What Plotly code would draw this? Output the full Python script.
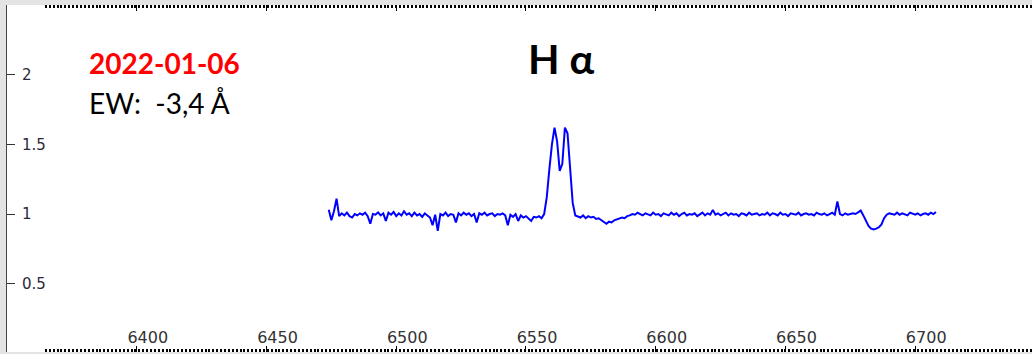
import plotly.graph_objects as go

# Wavelength grid (Angstrom)
wavelength = [
    6474, 6475, 6476, 6477, 6478, 6479, 6480, 6481, 6482, 6483,
    6484, 6485, 6486, 6487, 6488, 6489, 6490, 6491, 6492, 6493,
    6494, 6495, 6496, 6497, 6498, 6499, 6500, 6501, 6502, 6503,
    6504, 6505, 6506, 6507, 6508, 6509, 6510, 6511, 6512, 6513,
    6514, 6515, 6516, 6517, 6518, 6519, 6520, 6521, 6522, 6523,
    6524, 6525, 6526, 6527, 6528, 6529, 6530, 6531, 6532, 6533,
    6534, 6535, 6536, 6537, 6538, 6539, 6540, 6541, 6542, 6543,
    6544, 6545, 6546, 6547, 6548, 6549, 6550, 6551, 6552, 6553,
    6554, 6555, 6556, 6557, 6558, 6559, 6560, 6561, 6562, 6563,
    6564, 6565, 6566, 6567, 6568, 6569, 6570, 6571, 6572, 6573,
    6574, 6575, 6576, 6577, 6578, 6579, 6580, 6581, 6582, 6583,
    6584, 6585, 6586, 6587, 6588, 6589, 6590, 6591, 6592, 6593,
    6594, 6595, 6596, 6597, 6598, 6599, 6600, 6601, 6602, 6603,
    6604, 6605, 6606, 6607, 6608, 6609, 6610, 6611, 6612, 6613,
    6614, 6615, 6616, 6617, 6618, 6619, 6620, 6621, 6622, 6623,
    6624, 6625, 6626, 6627, 6628, 6629, 6630, 6631, 6632, 6633,
    6634, 6635, 6636, 6637, 6638, 6639, 6640, 6641, 6642, 6643,
    6644, 6645, 6646, 6647, 6648, 6649, 6650, 6651, 6652, 6653,
    6654, 6655, 6656, 6657, 6658, 6659, 6660, 6661, 6662, 6663,
    6664, 6665, 6666, 6667, 6668, 6669, 6670, 6671, 6672, 6673,
    6674, 6675, 6676, 6677, 6678, 6679, 6680, 6681, 6682, 6683,
    6684, 6685, 6686, 6687, 6688, 6689, 6690, 6691, 6692, 6693,
    6694, 6695, 6696, 6697, 6698, 6699, 6700, 6701, 6702, 6703,
    6704, 6705, 6706, 6707, 6708,
]

# Normalised flux
flux = [
    1.03, 0.955, 1.02, 1.11, 0.985, 1.005, 0.99, 1.01, 0.985, 0.975,
    1.0, 0.99, 1.005, 0.995, 1.01, 0.985, 0.93, 1.0, 0.995, 1.012,
    0.99, 1.005, 0.95, 1.01, 0.995, 1.015, 0.985, 1.005, 0.99, 1.02,
    0.995, 1.005, 0.985, 1.01, 0.99, 1.0, 0.98, 1.005, 0.99, 0.975,
    0.92, 0.995, 0.88, 1.0, 0.99, 1.01, 0.985, 1.0, 0.995, 0.94,
    1.005, 0.99, 1.01, 0.995, 1.005, 0.985, 1.0, 0.94, 1.005, 0.995,
    1.01, 0.99, 1.0, 1.005, 0.985, 1.0, 0.995, 1.005, 0.99, 0.92,
    0.995, 0.98, 1.0, 0.95, 0.99, 0.975, 0.985, 0.97, 0.95, 0.98,
    0.975, 0.985, 0.97, 1.0, 1.12, 1.32, 1.5, 1.62, 1.52, 1.31,
    1.36, 1.62, 1.58, 1.33, 1.08, 0.99, 0.985, 0.975, 0.99, 0.97,
    0.985, 0.975, 0.98, 0.965, 0.97, 0.955, 0.945, 0.93, 0.945, 0.94,
    0.955, 0.96, 0.965, 0.975, 0.97, 0.985, 0.99, 1.0, 0.995, 1.01,
    1.0, 0.99, 1.005, 1.0, 0.99, 1.01, 0.995, 1.0, 0.985, 1.005,
    1.0, 0.99, 1.01, 0.995, 1.005, 0.985, 1.0, 1.01, 0.99, 1.0,
    0.995, 1.005, 0.985, 1.0, 1.01, 0.99, 1.005, 0.995, 1.03, 0.995,
    1.005, 0.99, 1.0, 1.01, 0.99, 1.005, 0.995, 1.0, 0.985, 1.005,
    1.0, 0.99, 1.01, 0.995, 1.0, 1.005, 0.99, 1.0, 0.995, 1.01,
    0.99, 1.005, 1.0, 0.99, 1.01, 0.995, 1.0, 0.985, 1.005, 1.0,
    0.995, 1.01, 0.99, 1.0, 1.005, 0.995, 1.0, 0.99, 1.01, 1.0,
    0.995, 1.005, 0.99, 1.0, 1.01, 0.995, 1.09, 1.0, 0.99, 1.005,
    0.995, 1.0, 1.005, 1.0, 1.01, 1.025, 0.99, 0.95, 0.915, 0.895,
    0.89, 0.895, 0.905, 0.925, 0.97, 0.995, 1.005, 1.0, 0.995, 1.01,
    0.995, 1.005, 1.0, 0.99, 1.01, 1.0, 0.995, 1.005, 0.99, 1.0,
    1.005, 0.995, 1.01, 1.0, 1.015,
]

x_ticks = [6400, 6450, 6500, 6550, 6600, 6650, 6700]
y_ticks = [0.5, 1, 1.5, 2]

title_text = "H α"
date_text = "2022-01-06"
ew_text = "EW:\u00a0 -3,4 Å"

fig = go.Figure()
fig.add_trace(go.Scatter(
    x=wavelength, y=flux, mode="lines",
    line=dict(color="#0000ff", width=2),
    showlegend=False, hoverinfo="skip",
))

fig.update_layout(
    width=1032, height=354, autosize=False,
    margin=dict(l=7, r=0, t=5, b=2, pad=0),
    paper_bgcolor="#e4e4e4",
    plot_bgcolor="#ffffff",
    xaxis=dict(
        range=[6350, 6745],
        tickmode="array", tickvals=x_ticks,
        ticks="inside", ticklen=6, tickwidth=1, tickcolor="#000000",
        ticklabelposition="inside", ticklabelshift=11,
        tickfont=dict(family="DejaVu Sans", size=16, color="#333333"),
        mirror="ticks", showline=False, showgrid=False, zeroline=False,
        minor=dict(dtick=1.5, tick0=6350, ticks="inside", ticklen=3,
                   tickwidth=2, tickcolor="#000000", showgrid=False),
    ),
    yaxis=dict(
        range=[0.01, 2.5],
        tickmode="array", tickvals=y_ticks,
        ticks="inside", ticklen=8, tickwidth=1, tickcolor="#333333",
        ticklabelposition="inside", ticklabelstandoff=7,
        tickfont=dict(family="DejaVu Sans", size=15, color="#2a2a3a"),
        showline=True, linecolor="#444444", linewidth=1,
        showgrid=False, zeroline=False,
    ),
    annotations=[
        dict(text=title_text, xref="paper", yref="paper", x=0.5405, y=0.847,
             xanchor="center", yanchor="middle", showarrow=False,
             font=dict(family="Lato", size=41, color="#000000", weight="bold")),
        dict(text=date_text, xref="paper", yref="paper", x=0.078, y=0.832,
             xanchor="left", yanchor="middle", showarrow=False,
             font=dict(family="Lato", size=28, color="#ff0000", weight="bold")),
        dict(text=ew_text, xref="paper", yref="paper", x=0.078, y=0.717,
             xanchor="left", yanchor="middle", showarrow=False,
             font=dict(family="Lato", size=28, color="#000000")),
    ],
)

fig.write_html("out.html")
